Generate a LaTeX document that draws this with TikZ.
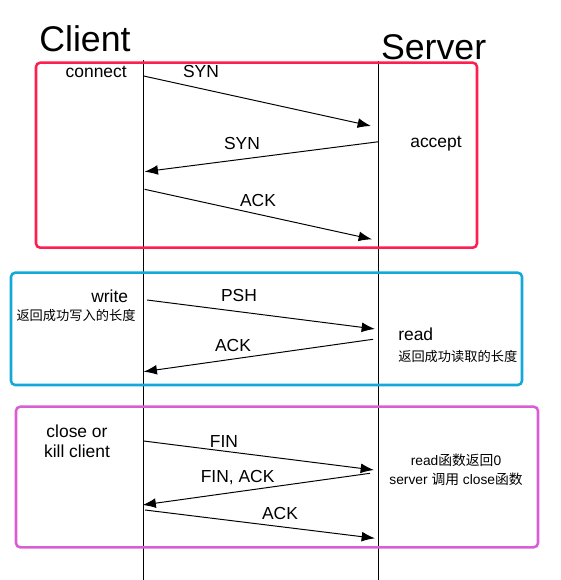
\documentclass[tikz,border=0pt]{standalone}
\usepackage{fontspec}
\setmainfont{Liberation Sans}
\newfontfamily\cjk{Noto Sans CJK SC}
\usepackage{tikz}
\usetikzlibrary{arrows.meta,positioning,calc}
\usepackage{xcolor}

\definecolor{phasered}{HTML}{FF1F4F}
\definecolor{phaseblue}{HTML}{14A8D8}
\definecolor{phasepink}{HTML}{D95ED6}
\newcommand{\zh}[1]{{\cjk #1}}

\begin{document}
\begin{tikzpicture}[
    msg/.style={line width=0.7pt, -{Latex[length=9.5pt,width=7pt]}},
    life/.style={line width=0.7pt},
    phase/.style={line width=1.8pt, rounded corners=3pt},
    lbl/.style={font=\fontsize{12.4}{15}\selectfont, inner sep=0pt},
    head/.style={font=\fontsize{25.4}{30}\selectfont, inner sep=0pt, anchor=base},
    note/.style={font=\fontsize{9.4}{13}\selectfont, inner sep=0pt}
]
    \useasboundingbox (0,0) rectangle (14,14.5);

    % lifelines
    \node[head] (client) at (2.125, 13.2075) {Client};
    \node[head] (server) at (10.84, 13.0175) {Server};
    \coordinate (ctop) at (3.59, 13.0);
    \coordinate (cbot) at (3.59, 0);
    \coordinate (stop) at (9.46, 12.975);
    \coordinate (sbot) at (9.46, 0);
    \draw[life] (ctop) -- (cbot);
    \draw[life] (stop) -- (sbot);

    % Phase 1: connect
    \draw[phase, phasered] (0.9,12.9325) rectangle (11.925,8.3075);
    \node[lbl, anchor=east] (connect) at (3.175, 12.7075) {connect};
    \node[lbl] (accept) at (10.9, 10.9) {accept};

    \coordinate (syn1a) at (3.59, 12.6);
    \coordinate (syn1b) at (9.275, 11.35);
    \draw[msg] (syn1a) -- (syn1b);
    \node[lbl] (syn1) at (5.025, 12.7075) {SYN};

    \coordinate (syn2a) at (9.47, 10.9575);
    \coordinate (syn2b) at (3.615, 10.2075);
    \draw[msg] (syn2a) -- (syn2b);
    \node[lbl] (syn2) at (6.05, 10.9) {SYN};

    \coordinate (ack1a) at (3.615, 9.7675);
    \coordinate (ack1b) at (9.3, 8.5175);
    \draw[msg] (ack1a) -- (ack1b);
    \node[lbl] (ack1) at (6.45, 9.475) {ACK};

    % Phase 2: write / read
    \draw[phase, phaseblue] (0.275,7.6825) rectangle (13.05,4.875);
    \node[lbl, anchor=east] (write) at (3.21, 7.1) {write};
    \node[note] (wlen) at (1.9, 6.625) {\zh{返回成功写入的长度}};
    \node[lbl, anchor=west] (read) at (9.95, 6.15) {read};
    \node[note, anchor=west] (rlen) at (9.95, 5.6) {\zh{返回成功读取的长度}};

    \coordinate (psha) at (3.675, 7.0);
    \coordinate (pshb) at (9.375, 6.275);
    \draw[msg] (psha) -- (pshb);
    \node[lbl] (psh) at (5.975, 7.1) {PSH};

    \coordinate (ack2a) at (9.325, 6.0175);
    \coordinate (ack2b) at (3.59, 5.2075);
    \draw[msg] (ack2a) -- (ack2b);
    \node[lbl] (ack2) at (5.825, 5.85) {ACK};

    % Phase 3: close
    \draw[phase, phasepink] (0.4,4.3325) rectangle (13.45,0.8175);
    \node[lbl, align=center, font=\fontsize{12.4}{14.2}\selectfont] (close) at (1.925, 3.4575)
        {close or\\kill client};
    \node[note, align=center, font=\fontsize{9.8}{13.7}\selectfont] (sclose) at (11.4, 2.7575)
        {read\zh{函数返回}0\\server \zh{调用} close\zh{函数}};

    \coordinate (fin1a) at (3.59, 3.475);
    \coordinate (fin1b) at (9.35, 2.75);
    \draw[msg] (fin1a) -- (fin1b);
    \node[lbl] (fin1) at (5.6, 3.4575) {FIN};

    \coordinate (fin2a) at (9.25, 2.6675);
    \coordinate (fin2b) at (3.5625, 1.875);
    \draw[msg] (fin2a) -- (fin2b);
    \node[lbl] (fin2) at (5.94, 2.5675) {FIN, ACK};

    \coordinate (ack3a) at (3.625, 1.75);
    \coordinate (ack3b) at (9.375, 1.0425);
    \draw[msg] (ack3a) -- (ack3b);
    \node[lbl] (ack3) at (7.0, 1.6675) {ACK};
\end{tikzpicture}
\end{document}
